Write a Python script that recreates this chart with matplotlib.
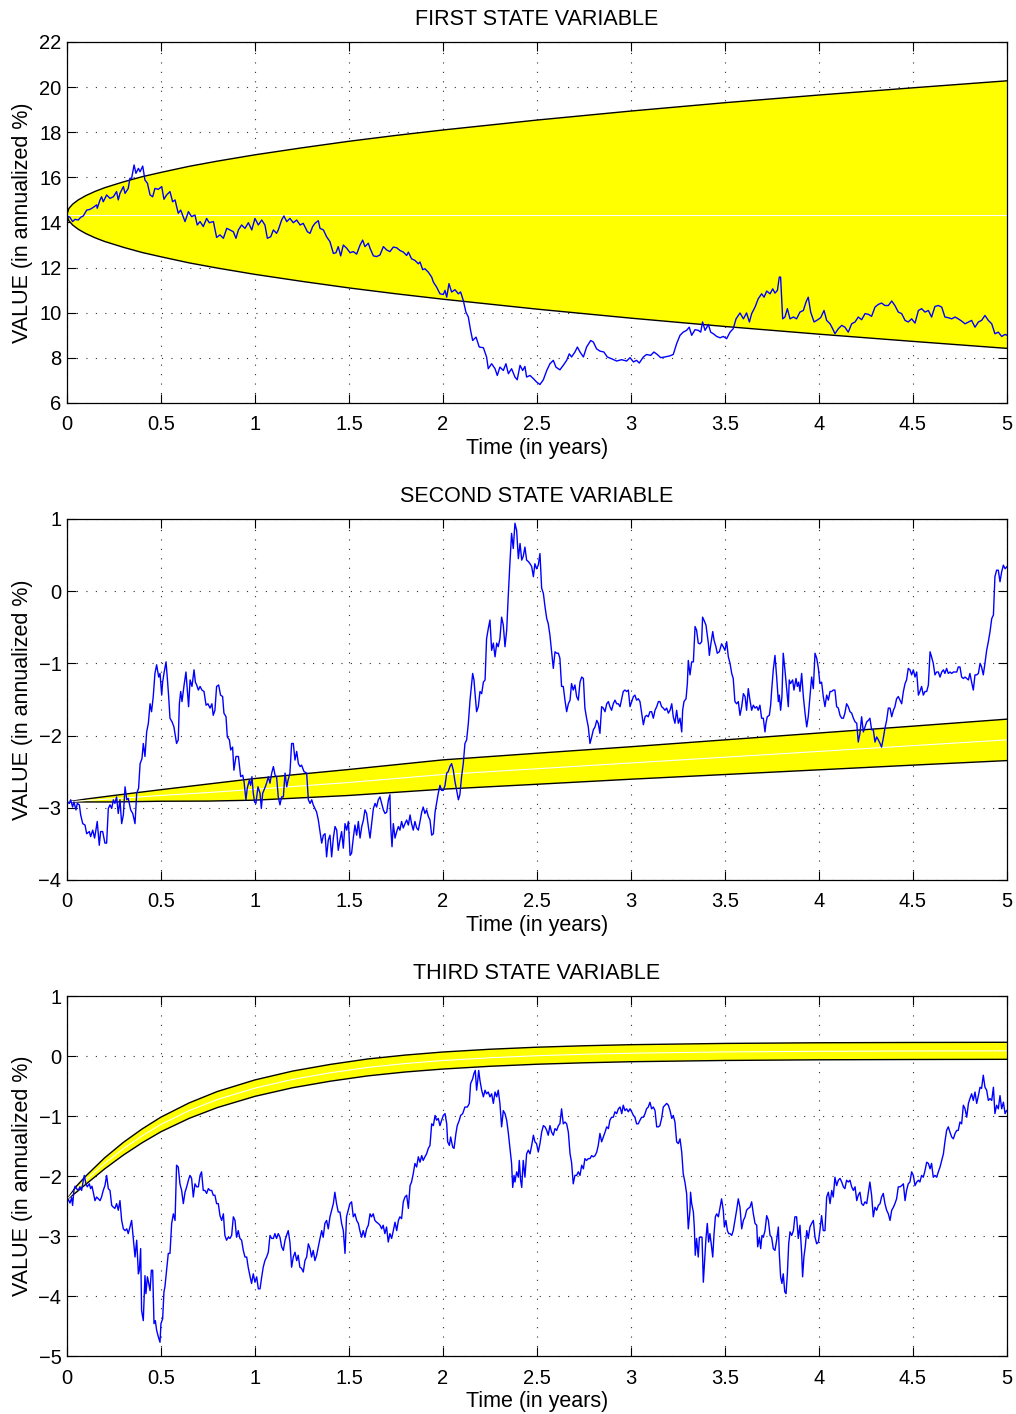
import numpy as np
import matplotlib
matplotlib.use("Agg")
import matplotlib.pyplot as plt

plt.rcParams['font.family'] = ['Liberation Sans', 'DejaVu Sans']

# ---------------------------------------------------------------- axis setup
x_ticks = [0, 0.5, 1, 1.5, 2, 2.5, 3, 3.5, 4, 4.5, 5]
x_tick_labels = ['0', '0.5', '1', '1.5', '2', '2.5', '3', '3.5', '4', '4.5', '5']
titles = ['FIRST STATE VARIABLE', 'SECOND STATE VARIABLE', 'THIRD STATE VARIABLE']
y_limits = [(6, 22), (-4, 1), (-5, 1)]
y_ticks = [[6, 8, 10, 12, 14, 16, 18, 20, 22],
           [-4, -3, -2, -1, 0, 1],
           [-5, -4, -3, -2, -1, 0, 1]]

# ------------------------------------------------ confidence bands (upper/lower)
band1_t = [0, 0.01, 0.03, 0.06, 0.1, 0.15, 0.2, 0.3, 0.4, 0.5, 0.65, 0.8, 1.0,
           1.25, 1.5, 1.75, 2.0, 2.5, 3.0, 3.5, 4.0, 4.5, 5.0]
band1_up = [14.35, 14.62, 14.81, 15.00, 15.19, 15.38, 15.54, 15.80, 16.03, 16.22,
            16.49, 16.72, 17.00, 17.31, 17.60, 17.86, 18.10, 18.54, 18.94, 19.31,
            19.65, 19.97, 20.28]
band1_lo = [14.35, 14.08, 13.89, 13.70, 13.51, 13.32, 13.16, 12.90, 12.67, 12.48,
            12.21, 11.98, 11.70, 11.39, 11.10, 10.84, 10.60, 10.16, 9.76, 9.39,
            9.05, 8.73, 8.42]
band1_mid_t = [0, 5]
band1_mid = [14.35, 14.35]

band2_t = [0, 0.1, 0.25, 0.5, 0.75, 1.0, 1.5, 2.0, 2.5, 3.0, 3.5, 4.0, 4.5, 5.0]
band2_up = [-2.92, -2.88, -2.83, -2.75, -2.672, -2.595, -2.47, -2.337, -2.245,
            -2.155, -2.06, -1.965, -1.87, -1.773]
band2_lo = [-2.92, -2.92, -2.92, -2.91, -2.908, -2.895, -2.83, -2.743, -2.675,
            -2.605, -2.54, -2.475, -2.41, -2.347]
band2_mid = [-2.92, -2.90, -2.875, -2.83, -2.79, -2.745, -2.65, -2.54, -2.46,
             -2.38, -2.30, -2.22, -2.14, -2.06]

band3_t = [0, 0.05, 0.1, 0.2, 0.3, 0.4, 0.5, 0.65, 0.8, 1.0, 1.2, 1.4, 1.6, 1.8,
           2.0, 2.25, 2.5, 2.75, 3.0, 3.5, 4.0, 4.5, 5.0]
band3_up = [-2.39, -2.17, -2.001, -1.698, -1.439, -1.215, -1.018, -0.781, -0.591,
            -0.398, -0.251, -0.14, -0.049, 0.016, 0.067, 0.113, 0.147, 0.171,
            0.189, 0.21, 0.221, 0.226, 0.229]
band3_lo = [-2.39, -2.27, -2.139, -1.882, -1.651, -1.445, -1.262, -1.039, -0.859,
            -0.672, -0.529, -0.42, -0.331, -0.266, -0.217, -0.171, -0.137, -0.113,
            -0.095, -0.074, -0.063, -0.058, -0.055]
band3_mid = [-2.39, -2.22, -2.07, -1.79, -1.545, -1.33, -1.14, -0.91, -0.725,
             -0.535, -0.39, -0.28, -0.19, -0.125, -0.075, -0.029, 0.005, 0.029,
             0.047, 0.068, 0.079, 0.084, 0.087]

# ------------------------------------------------------- simulated path, var 1
path1_t = [
    0.000, 0.016, 0.030, 0.043, 0.060, 0.073, 0.087, 0.105, 0.122, 0.140,
    0.158, 0.161, 0.176, 0.184, 0.193, 0.211, 0.229, 0.247, 0.264, 0.273,
    0.282, 0.300, 0.309, 0.326, 0.335, 0.344, 0.357, 0.367, 0.380, 0.389,
    0.403, 0.415, 0.428, 0.442, 0.456, 0.468, 0.486, 0.504, 0.516, 0.530,
    0.548, 0.562, 0.575, 0.592, 0.605, 0.628, 0.646, 0.663, 0.681, 0.693,
    0.708, 0.725, 0.743, 0.757, 0.779, 0.796, 0.814, 0.832, 0.850, 0.867,
    0.885, 0.899, 0.912, 0.929, 0.947, 0.965, 0.983, 1.000, 1.018, 1.036,
    1.053, 1.066, 1.084, 1.098, 1.115, 1.124, 1.142, 1.154, 1.169, 1.186,
    1.204, 1.222, 1.240, 1.257, 1.279, 1.293, 1.307, 1.319, 1.337, 1.346,
    1.364, 1.381, 1.399, 1.417, 1.431, 1.443, 1.456, 1.470, 1.488, 1.506,
    1.523, 1.541, 1.559, 1.573, 1.585, 1.603, 1.612, 1.630, 1.647, 1.665,
    1.683, 1.701, 1.718,
    1.736, 1.754, 1.771, 1.789, 1.807, 1.816, 1.833, 1.851, 1.869, 1.878,
    1.892, 1.904, 1.922, 1.940, 1.949, 1.966, 1.984, 2.002, 2.011, 2.020,
    2.032, 2.046, 2.064, 2.082, 2.094, 2.108, 2.122, 2.135, 2.147, 2.158,
    2.176, 2.193, 2.215, 2.232, 2.241, 2.259, 2.277, 2.289, 2.303, 2.321,
    2.335, 2.348, 2.365, 2.383, 2.395, 2.410, 2.424, 2.436, 2.445, 2.463,
    2.481, 2.498, 2.516, 2.534, 2.552, 2.569, 2.587, 2.601, 2.622, 2.640,
    2.658, 2.672, 2.684, 2.702, 2.715, 2.729, 2.747, 2.764, 2.786, 2.800,
    2.817, 2.835, 2.856, 2.874, 2.897, 2.924, 2.950, 2.977, 2.995, 3.013,
    3.030, 3.044, 3.066, 3.083, 3.105, 3.122, 3.140, 3.158, 3.181, 3.207,
    3.225, 3.243, 3.261, 3.278, 3.296, 3.310, 3.323, 3.341, 3.358,
    3.371, 3.381, 3.394, 3.412, 3.424, 3.438, 3.456, 3.474, 3.491, 3.509,
    3.527, 3.544, 3.559, 3.580, 3.598, 3.615, 3.630, 3.642, 3.660, 3.677,
    3.695, 3.708, 3.722, 3.740, 3.754, 3.766, 3.779, 3.789, 3.796, 3.807,
    3.819, 3.832, 3.846, 3.864, 3.881, 3.899, 3.917, 3.931, 3.943, 3.956,
    3.974, 3.988, 4.009, 4.027, 4.041, 4.059, 4.073, 4.085, 4.103, 4.121,
    4.138, 4.156, 4.174, 4.192, 4.209, 4.227, 4.245, 4.263, 4.280, 4.298,
    4.316, 4.333, 4.351, 4.369, 4.387, 4.404, 4.422, 4.440, 4.458, 4.475,
    4.493, 4.511, 4.529, 4.546, 4.564, 4.582, 4.599, 4.617, 4.635, 4.653,
    4.670, 4.688, 4.706, 4.724, 4.741, 4.759, 4.777, 4.795, 4.812, 4.830,
    4.848, 4.865, 4.883, 4.901, 4.919, 4.936, 4.954, 4.972, 4.990, 5.000]
path1_v = [
    14.29, 14.23, 14.04, 14.14, 14.11, 14.23, 14.29, 14.55, 14.58, 14.67,
    14.78, 14.63, 15.00, 15.14, 14.92, 15.22, 15.07, 15.14, 15.37, 15.00,
    15.29, 15.59, 15.29, 15.51, 15.96, 15.96, 16.55, 16.18, 16.40, 16.25,
    16.50, 15.88, 15.74, 15.22, 15.14, 15.51, 15.47, 15.59, 15.03, 15.22,
    15.37, 14.92, 15.00, 14.41, 14.55, 14.04, 14.48, 14.26, 14.33, 13.89,
    14.04, 13.82, 14.18, 13.99, 14.04, 13.34, 13.45, 13.30, 13.74, 13.67,
    13.59, 13.30, 13.67, 13.89, 13.74, 13.99, 13.67, 14.18, 13.89, 14.11,
    13.89, 13.30, 13.37, 13.67, 13.52, 13.67, 14.11, 14.29, 14.04, 14.18,
    13.99, 14.11, 13.89, 13.96, 13.59, 13.52, 13.82, 13.96, 14.08, 13.74,
    13.67, 13.37, 13.15, 12.63, 12.66, 12.93, 12.52, 13.00, 12.86, 12.66,
    12.71, 12.60, 13.00, 13.22, 12.93, 13.08, 12.86, 12.52, 12.49, 12.56,
    12.93, 12.78, 12.71,
    12.91, 12.88, 12.76, 12.69, 12.54, 12.69, 12.39, 12.32, 12.17, 12.25,
    11.91, 11.95, 11.80, 11.58, 11.36, 11.14, 10.84, 10.81, 10.99, 10.69,
    11.29, 10.92, 11.02, 10.84, 10.92, 10.55, 10.03, 9.81, 9.22, 8.77,
    8.92, 8.48, 8.45, 8.04, 7.52, 7.74, 7.52, 7.22, 7.59, 7.44,
    7.74, 7.30, 7.52, 7.15, 7.03, 7.67, 7.44, 7.62, 7.15, 7.22,
    7.08, 6.93, 6.82, 7.03, 7.44, 7.74, 7.89, 7.59, 7.47, 7.67,
    7.89, 8.18, 8.04, 8.26, 8.48, 8.26, 8.04, 8.48, 8.77, 8.70,
    8.40, 8.30, 8.26, 8.04, 7.96, 7.86, 7.92, 7.86, 8.01, 7.82,
    7.89, 7.77, 8.04, 8.15, 8.11, 8.26, 8.15, 8.01, 8.04, 8.09,
    8.15, 8.63, 9.00, 9.14, 9.22, 9.36, 9.00, 9.25, 9.22,
    9.14, 9.59, 9.22, 9.48, 9.14, 9.07, 8.95, 8.89, 8.95, 8.85,
    9.14, 9.29, 9.73, 9.99, 9.73, 9.99, 9.59, 9.96, 10.25, 10.62,
    10.84, 10.69, 10.96, 10.84, 11.06, 10.87, 10.99, 11.58, 11.58, 9.73,
    9.81, 10.18, 9.73, 9.81, 9.73, 10.03, 10.10, 10.47, 10.69, 10.03,
    9.59, 9.66, 9.78, 10.10, 9.66, 9.51, 9.29, 9.07, 9.29, 9.44,
    9.36, 9.14, 9.51, 9.59, 9.81, 9.69, 9.96, 9.93, 9.84, 10.25,
    10.37, 10.43, 10.32, 10.32, 10.52, 10.32, 10.03, 9.96, 9.66, 9.59,
    9.73, 9.54, 10.10, 10.18, 10.03, 10.10, 9.81, 10.28, 10.32, 10.25,
    9.81, 9.78, 9.73, 9.81, 9.73, 9.63, 9.51, 9.59, 9.66, 9.36,
    9.59, 9.66, 9.88, 9.66, 9.51, 9.07, 9.14, 8.95, 9.04, 9.00]

# ------------------------------------------------------- simulated path, var 2
path2_t = [
    0.000, 0.013, 0.020, 0.030, 0.037, 0.048, 0.055, 0.066, 0.073, 0.084,
    0.096, 0.105, 0.119, 0.126, 0.137, 0.147, 0.154, 0.161, 0.172, 0.179,
    0.190, 0.202, 0.211, 0.220, 0.229, 0.238, 0.247, 0.255, 0.264, 0.273,
    0.282, 0.291, 0.300, 0.309, 0.318, 0.326, 0.339, 0.350, 0.362, 0.371,
    0.381, 0.389, 0.399, 0.406, 0.415, 0.424, 0.433, 0.442, 0.450, 0.459,
    0.468, 0.477, 0.488, 0.495, 0.504, 0.509, 0.516, 0.527, 0.534, 0.541,
    0.548, 0.559, 0.569, 0.583, 0.592, 0.598, 0.605, 0.612, 0.622, 0.633,
    0.640, 0.647, 0.655, 0.665, 0.676, 0.683, 0.690, 0.699, 0.708, 0.718,
    0.729, 0.740, 0.750, 0.761, 0.771, 0.778, 0.787, 0.796, 0.807, 0.817,
    0.828, 0.835, 0.846, 0.853, 0.864, 0.871, 0.881, 0.888, 0.899, 0.912,
    0.924, 0.935, 0.942, 0.952, 0.959, 0.970, 0.977, 0.984, 0.991, 0.998,
    1.005, 1.016, 1.027, 1.034, 1.041, 1.052, 1.062, 1.071, 1.080, 1.089,
    1.098, 1.107, 1.115, 1.124, 1.133, 1.142, 1.151, 1.160, 1.169, 1.176,
    1.186, 1.195, 1.204, 1.213, 1.222, 1.231, 1.240, 1.248, 1.261, 1.275,
    1.284, 1.293, 1.302, 1.310, 1.319, 1.328, 1.337, 1.346, 1.355, 1.364,
    1.373, 1.381, 1.390, 1.399, 1.408, 1.417, 1.426, 1.435, 1.443, 1.452,
    1.461, 1.470, 1.479, 1.488, 1.497, 1.506, 1.514, 1.523, 1.532, 1.541,
    1.550, 1.559, 1.568, 1.577, 1.585, 1.594, 1.603, 1.612, 1.621, 1.630,
    1.639, 1.647, 1.656, 1.665, 1.674, 1.683, 1.692, 1.701, 1.710, 1.718,
    1.722, 1.729, 1.736, 1.745, 1.754, 1.763, 1.771, 1.780, 1.789, 1.798,
    1.807, 1.816, 1.825, 1.833, 1.842, 1.851, 1.860, 1.869, 1.878, 1.887,
    1.895, 1.904, 1.913, 1.922, 1.931, 1.940, 1.949, 1.958, 1.966, 1.975,
    1.984, 1.993, 2.002, 2.011, 2.020, 2.028, 2.037, 2.046, 2.055, 2.064,
    2.073, 2.082, 2.090, 2.099, 2.108, 2.117, 2.126, 2.135, 2.144, 2.153,
    2.158, 2.165, 2.172, 2.179, 2.188, 2.197, 2.206, 2.215, 2.224, 2.232,
    2.241, 2.250, 2.259, 2.268, 2.277, 2.286, 2.294, 2.303, 2.312, 2.321,
    2.330, 2.339, 2.348, 2.356, 2.365, 2.374, 2.383, 2.392, 2.401, 2.410,
    2.419, 2.427, 2.436, 2.445, 2.454, 2.463, 2.472, 2.481, 2.489, 2.498,
    2.507, 2.516, 2.525, 2.534, 2.543, 2.552, 2.560, 2.569, 2.578, 2.587,
    2.596, 2.605, 2.614, 2.622, 2.631, 2.640, 2.649, 2.658, 2.667, 2.676,
    2.684, 2.693, 2.702, 2.711, 2.720, 2.729, 2.738, 2.747, 2.755, 2.764,
    2.773, 2.782, 2.791, 2.800, 2.809, 2.818, 2.826, 2.835, 2.844, 2.853,
    2.862, 2.871, 2.880, 2.888, 2.897, 2.906, 2.915, 2.924, 2.933, 2.942,
    2.951, 2.959, 2.968, 2.977, 2.986, 2.995, 3.004, 3.013, 3.021, 3.030,
    3.039, 3.048, 3.057, 3.066, 3.075, 3.083, 3.092, 3.101, 3.110, 3.119,
    3.128, 3.137, 3.146, 3.154, 3.163, 3.172, 3.181, 3.190, 3.199, 3.208,
    3.217, 3.225, 3.234, 3.243, 3.252, 3.261, 3.270, 3.275, 3.282, 3.293,
    3.300, 3.305, 3.314, 3.323, 3.332, 3.341, 3.349, 3.358,
    3.367, 3.376, 3.381, 3.388, 3.399, 3.412, 3.417, 3.424, 3.435, 3.442,
    3.452, 3.459, 3.470, 3.482, 3.491, 3.500, 3.509, 3.518, 3.527, 3.536,
    3.544, 3.553, 3.562, 3.571, 3.580, 3.589, 3.598, 3.607, 3.615, 3.624,
    3.633, 3.642, 3.651, 3.660, 3.669, 3.677, 3.686, 3.695, 3.704, 3.713,
    3.718, 3.725, 3.736, 3.743, 3.748, 3.757, 3.766, 3.775, 3.784, 3.789,
    3.796, 3.803, 3.810, 3.819, 3.828, 3.837, 3.842, 3.849, 3.860, 3.867,
    3.878, 3.885, 3.892, 3.899, 3.908, 3.917, 3.926, 3.935, 3.943, 3.952,
    3.961, 3.970, 3.979, 3.988, 3.997, 4.005, 4.014, 4.023, 4.032, 4.041,
    4.050, 4.059, 4.068, 4.076, 4.085, 4.094, 4.103, 4.112, 4.121, 4.130,
    4.138, 4.147, 4.156, 4.165, 4.174, 4.183, 4.192, 4.201, 4.209, 4.218,
    4.227, 4.236, 4.245, 4.254, 4.263, 4.271, 4.280, 4.289, 4.298, 4.307,
    4.316, 4.325, 4.333, 4.342, 4.351, 4.360, 4.369, 4.378, 4.387, 4.396,
    4.404, 4.413, 4.422, 4.431, 4.440, 4.449, 4.458, 4.466, 4.475, 4.484,
    4.493, 4.502, 4.511, 4.520, 4.529, 4.537, 4.546, 4.555, 4.564, 4.573,
    4.582, 4.591, 4.599, 4.608, 4.617, 4.626, 4.635, 4.644, 4.653, 4.662,
    4.670, 4.679, 4.688, 4.697, 4.706, 4.715, 4.724, 4.733, 4.741, 4.750,
    4.759, 4.768, 4.777, 4.786, 4.795, 4.803, 4.812, 4.821, 4.830, 4.839,
    4.848, 4.857, 4.865, 4.874, 4.883, 4.892, 4.901, 4.910, 4.919, 4.928,
    4.936, 4.945, 4.954, 4.963, 4.972, 4.981, 4.990, 5.000]
path2_v = [
    -2.92, -2.94, -2.89, -2.99, -2.92, -3.03, -2.94, -2.96, -3.10, -3.22,
    -3.24, -3.36, -3.33, -3.40, -3.31, -3.42, -3.31, -3.19, -3.52, -3.33,
    -3.33, -3.49, -3.49, -3.01, -2.96, -3.01, -2.89, -2.94, -2.85, -3.08,
    -2.89, -3.22, -3.10, -2.71, -2.89, -2.87, -3.03, -3.08, -3.22, -2.80,
    -2.73, -2.39, -2.32, -2.11, -2.29, -1.95, -1.83, -1.56, -1.67, -1.46,
    -1.14, -1.02, -1.19, -1.14, -1.44, -1.26, -1.14, -0.98, -1.21, -1.46,
    -1.76, -1.81, -1.88, -2.11, -2.06, -1.56, -1.39, -1.53, -1.32, -1.12,
    -1.37, -1.60, -1.23, -1.32, -1.09, -1.26, -1.30, -1.37, -1.32, -1.37,
    -1.39, -1.58, -1.56, -1.62, -1.56, -1.72, -1.65, -1.32, -1.30, -1.44,
    -1.46, -1.69, -1.74, -2.02, -2.06, -2.20, -2.16, -2.48, -2.29, -2.29,
    -2.57, -2.55, -2.64, -2.89, -2.73, -2.62, -2.69, -2.57, -2.80, -2.92,
    -2.94, -2.71, -2.80, -3.01, -2.80, -2.73, -2.66, -2.57, -2.66, -2.52,
    -2.43, -2.55, -2.57, -2.85, -2.96, -2.85, -2.85, -2.52, -2.71, -2.62,
    -2.52, -2.11, -2.11, -2.34, -2.22, -2.39, -2.43, -2.41, -2.50, -2.52,
    -2.89, -2.94, -2.89, -2.96, -3.01, -3.06, -3.17, -3.33, -3.49, -3.38,
    -3.36, -3.68, -3.45, -3.38, -3.68, -3.42, -3.26, -3.31, -3.59, -3.45,
    -3.33, -3.56, -3.22, -3.31, -3.19, -3.66, -3.63, -3.42, -3.24, -3.38,
    -3.19, -3.42, -3.26, -3.17, -3.03, -3.08, -3.26, -3.42, -3.22, -3.01,
    -2.94, -2.99, -2.89, -2.85, -2.94, -3.03, -3.08, -3.06, -2.89, -2.82,
    -3.26, -3.54, -3.22, -3.42, -3.33, -3.26, -3.31, -3.19, -3.28, -3.22,
    -3.17, -3.24, -3.10, -3.22, -3.31, -3.19, -3.28, -3.31, -3.19, -3.06,
    -2.99, -3.08, -3.03, -3.12, -3.17, -3.38, -3.36, -3.06, -2.94, -2.80,
    -2.69, -2.76, -2.76, -2.69, -2.52, -2.50, -2.43, -2.39, -2.48, -2.64,
    -2.76, -2.89, -2.82, -2.57, -2.39, -2.11, -2.06, -1.83, -1.51, -1.28,
    -1.14, -1.23, -1.46, -1.67, -1.60, -1.39, -1.42, -1.26, -1.23, -0.66,
    -0.52, -0.40, -0.82, -0.72, -0.91, -0.72, -0.77, -0.66, -0.36, -0.47,
    -0.77, -0.54, -0.03, 0.38, 0.80, 0.59, 0.94, 0.84, 0.45, 0.66,
    0.43, 0.48, 0.61, 0.43, 0.41, 0.38, 0.34, 0.20, 0.38, 0.31,
    0.36, 0.52, 0.04, -0.03, -0.22, -0.38, -0.45, -0.61, -0.84, -1.07,
    -0.84, -0.86, -0.86, -0.93, -1.32, -1.32, -1.51, -1.67, -1.56, -1.51,
    -1.28, -1.37, -1.30, -1.46, -1.51, -1.26, -1.19, -1.21, -1.62, -1.76,
    -1.88, -2.11, -2.02, -1.92, -1.88, -1.79, -1.83, -1.97, -1.60, -1.62,
    -1.67, -1.56, -1.53, -1.60, -1.65, -1.56, -1.51, -1.56, -1.56, -1.60,
    -1.49, -1.39, -1.37, -1.39, -1.37, -1.60, -1.53, -1.46, -1.44, -1.51,
    -1.49, -1.53, -1.69, -1.85, -1.74, -1.72, -1.74, -1.67, -1.67, -1.76,
    -1.65, -1.60, -1.53, -1.53, -1.60, -1.62, -1.65, -1.62, -1.69, -1.65,
    -1.56, -1.74, -1.83, -1.65, -1.83, -1.76, -1.95, -1.65, -1.53, -1.49,
    -1.28, -0.96, -1.16, -0.98, -0.98, -0.49, -0.54, -0.72,
    -0.73, -0.70, -0.36, -0.40, -0.47, -0.73, -0.89, -0.75, -0.56, -0.68,
    -0.77, -0.86, -0.84, -0.73, -0.77, -0.82, -0.70, -0.91, -1.00, -1.14,
    -1.21, -1.53, -1.56, -1.53, -1.72, -1.60, -1.42, -1.46, -1.65, -1.35,
    -1.51, -1.65, -1.58, -1.62, -1.60, -1.65, -1.58, -1.76, -1.76, -1.95,
    -1.83, -1.74, -1.72, -1.58, -1.39, -1.09, -0.89, -1.19, -1.53, -1.44,
    -1.65, -1.46, -0.86, -1.09, -1.35, -1.60, -1.23, -1.28, -1.23, -1.37,
    -1.21, -1.32, -1.26, -1.39, -1.14, -1.46, -1.69, -1.88, -1.74, -1.46,
    -1.19, -1.35, -0.86, -0.93, -1.07, -1.28, -1.26, -1.46, -1.60, -1.44,
    -1.51, -1.39, -1.39, -1.37, -1.37, -1.60, -1.62, -1.72, -1.76, -1.76,
    -1.69, -1.56, -1.60, -1.67, -1.69, -1.76, -1.81, -1.83, -2.09, -1.97,
    -1.74, -1.95, -1.88, -1.81, -1.79, -1.76, -1.92, -1.92, -2.09, -2.02,
    -2.06, -2.11, -2.16, -2.04, -1.90, -1.79, -1.62, -1.62, -1.74, -1.65,
    -1.60, -1.49, -1.46, -1.51, -1.56, -1.39, -1.28, -1.23, -1.07, -1.09,
    -1.16, -1.09, -1.19, -1.12, -1.44, -1.39, -1.32, -1.44, -1.39, -1.39,
    -1.30, -0.84, -0.91, -1.00, -1.16, -1.12, -1.12, -1.19, -1.12, -1.09,
    -1.14, -1.07, -1.14, -1.12, -1.14, -1.12, -1.12, -1.12, -1.05, -1.05,
    -1.19, -1.21, -1.19, -1.21, -1.23, -1.14, -1.26, -1.37, -1.16, -1.16,
    -1.14, -1.00, -1.05, -1.16, -1.00, -0.82, -0.70, -0.56, -0.38, -0.33,
    0.20, 0.29, 0.29, 0.13, 0.27, 0.36, 0.31, 0.34]

# ------------------------------------------------------- simulated path, var 3
path3_t = [
    0.000, 0.007, 0.016, 0.025, 0.030, 0.037, 0.043, 0.051, 0.060, 0.069,
    0.078, 0.087, 0.092, 0.101, 0.108, 0.119, 0.126, 0.133, 0.140, 0.149,
    0.158, 0.167, 0.176, 0.184, 0.193, 0.202, 0.211, 0.220, 0.229, 0.238,
    0.247, 0.255, 0.264, 0.273, 0.282, 0.291, 0.300, 0.309, 0.318, 0.326,
    0.335, 0.344, 0.353, 0.362, 0.371, 0.380, 0.385, 0.392, 0.397, 0.406,
    0.415, 0.420, 0.428, 0.435, 0.442, 0.449, 0.456, 0.463, 0.470, 0.477,
    0.486, 0.495, 0.500, 0.509, 0.516, 0.521, 0.530, 0.539, 0.548, 0.557,
    0.566, 0.575, 0.583, 0.592, 0.601, 0.610, 0.619, 0.628, 0.637, 0.646,
    0.654, 0.663, 0.672, 0.681, 0.690, 0.699, 0.708, 0.716, 0.725, 0.734,
    0.743, 0.752, 0.761, 0.770, 0.778, 0.787, 0.796, 0.805, 0.814, 0.823,
    0.832, 0.840, 0.849, 0.858, 0.867, 0.876, 0.885, 0.894, 0.902, 0.911,
    0.920, 0.929, 0.938, 0.947, 0.956, 0.964, 0.973, 0.982, 0.991, 1.000,
    1.009, 1.018, 1.027, 1.036, 1.044, 1.053, 1.062, 1.071, 1.080, 1.089,
    1.098, 1.106, 1.115, 1.124, 1.133, 1.142, 1.151, 1.160, 1.168, 1.177,
    1.186, 1.195, 1.204, 1.213, 1.222, 1.230, 1.239, 1.248, 1.257, 1.266,
    1.275, 1.284, 1.293, 1.301, 1.310, 1.319, 1.328, 1.337, 1.346, 1.355,
    1.363, 1.372, 1.381, 1.390, 1.399, 1.408, 1.417, 1.425, 1.434, 1.443,
    1.452, 1.461, 1.470, 1.479, 1.487, 1.496, 1.505, 1.514, 1.523, 1.532,
    1.541, 1.550, 1.558, 1.567, 1.576, 1.585, 1.594, 1.603, 1.612, 1.620,
    1.629, 1.638, 1.647, 1.656, 1.665, 1.674, 1.682, 1.691, 1.700, 1.709,
    1.718,
    1.727, 1.736, 1.745, 1.754, 1.763, 1.771, 1.780, 1.789, 1.798, 1.807,
    1.816, 1.825, 1.833, 1.842, 1.851, 1.860, 1.869, 1.878, 1.887, 1.895,
    1.904, 1.913, 1.922, 1.931, 1.940, 1.949, 1.958, 1.966, 1.975, 1.984,
    1.993, 2.002, 2.011, 2.020, 2.025, 2.034, 2.041, 2.052, 2.059, 2.069,
    2.076, 2.087, 2.094, 2.105, 2.117, 2.130, 2.140, 2.147, 2.158, 2.165,
    2.172, 2.179, 2.185, 2.190, 2.197, 2.206, 2.215, 2.224, 2.232, 2.241,
    2.250, 2.259, 2.268, 2.277, 2.286, 2.294, 2.303, 2.312, 2.321, 2.330,
    2.339, 2.348, 2.356, 2.365, 2.371, 2.378, 2.383, 2.392, 2.401, 2.406,
    2.413, 2.419, 2.427, 2.436, 2.445, 2.454, 2.463, 2.472, 2.481, 2.489,
    2.498, 2.507, 2.516, 2.525, 2.534, 2.543, 2.552, 2.560, 2.569, 2.578,
    2.587, 2.596, 2.605, 2.614, 2.622, 2.631, 2.640, 2.649, 2.658, 2.667,
    2.676, 2.684, 2.693, 2.702, 2.711, 2.720, 2.729, 2.738, 2.747, 2.755,
    2.764, 2.773, 2.782, 2.791, 2.800, 2.809, 2.818, 2.826, 2.835, 2.844,
    2.853, 2.862, 2.871, 2.880, 2.888, 2.897, 2.906, 2.915, 2.924, 2.933,
    2.942, 2.951, 2.959, 2.968, 2.977, 2.986, 2.995, 3.004, 3.013, 3.021,
    3.030, 3.039, 3.048, 3.057, 3.066, 3.075, 3.083, 3.092, 3.101, 3.110,
    3.119, 3.128, 3.137, 3.146, 3.154, 3.163, 3.172, 3.181, 3.190, 3.199,
    3.208, 3.217, 3.225, 3.234, 3.243, 3.252, 3.261, 3.270, 3.278, 3.287,
    3.296, 3.305, 3.314, 3.317, 3.323, 3.332, 3.337, 3.342, 3.349, 3.358,
    3.364, 3.371, 3.378, 3.385, 3.394, 3.399, 3.406, 3.413, 3.420, 3.427,
    3.435, 3.442, 3.449, 3.456, 3.465, 3.474, 3.482, 3.491, 3.497, 3.505,
    3.513, 3.520, 3.527, 3.536, 3.544, 3.553, 3.562, 3.571, 3.580, 3.589,
    3.598, 3.607, 3.615, 3.624, 3.633, 3.642, 3.651, 3.660, 3.669, 3.674,
    3.683, 3.690, 3.697, 3.704, 3.713, 3.722, 3.731, 3.740, 3.748, 3.757,
    3.766, 3.775, 3.784, 3.789, 3.796, 3.803, 3.810, 3.818, 3.825, 3.832,
    3.839, 3.846, 3.855, 3.864, 3.872, 3.881, 3.890, 3.899, 3.908, 3.913,
    3.920, 3.927, 3.935, 3.943, 3.952, 3.961, 3.970, 3.979, 3.988, 3.997,
    4.005, 4.014, 4.023, 4.032, 4.041, 4.050, 4.059, 4.068, 4.076, 4.085,
    4.094, 4.103, 4.112, 4.121, 4.130, 4.138, 4.147, 4.156, 4.165, 4.174,
    4.183, 4.192, 4.201, 4.209, 4.218, 4.227, 4.236, 4.245, 4.254, 4.263,
    4.271, 4.280, 4.289, 4.298, 4.307, 4.316, 4.325, 4.333, 4.342, 4.351,
    4.360, 4.369, 4.378, 4.387, 4.396, 4.404, 4.413, 4.422, 4.431, 4.440,
    4.449, 4.458, 4.466, 4.475, 4.484, 4.493, 4.502, 4.511, 4.520, 4.529,
    4.537, 4.546, 4.555, 4.564, 4.573, 4.582, 4.591, 4.599, 4.608, 4.617,
    4.626, 4.635, 4.644, 4.653, 4.662, 4.670, 4.679, 4.688, 4.697, 4.706,
    4.715, 4.724, 4.733, 4.741, 4.750, 4.759, 4.768, 4.777, 4.786, 4.795,
    4.803, 4.812, 4.821, 4.830, 4.839, 4.848, 4.857, 4.865, 4.874, 4.883,
    4.892, 4.901, 4.910, 4.919, 4.928, 4.936, 4.945, 4.954, 4.963, 4.972,
    4.981, 4.990, 4.998]
path3_v = [
    -2.42, -2.39, -2.45, -2.36, -2.49, -2.24, -2.17, -2.21, -2.24, -2.18,
    -2.24, -2.07, -1.99, -2.13, -2.18, -2.13, -2.21, -2.17, -2.27, -2.41,
    -2.35, -2.38, -2.41, -2.35, -2.24, -2.16, -1.99, -2.21, -2.24, -2.49,
    -2.52, -2.54, -2.46, -2.57, -2.41, -2.74, -2.88, -2.91, -2.88, -2.96,
    -2.85, -2.74, -3.04, -3.35, -3.07, -3.63, -3.57, -3.21, -4.24, -4.41,
    -3.66, -3.96, -3.68, -3.79, -3.91, -3.57, -3.57, -4.46, -4.41, -4.57,
    -4.68, -4.77, -4.46, -4.38, -3.93, -3.85, -3.57, -3.29, -3.29, -2.79,
    -2.63, -2.74, -1.82, -1.85, -2.13, -2.24, -2.46, -2.27, -2.18, -2.07,
    -1.99, -2.04, -2.35, -2.13, -2.18, -2.18, -1.99, -1.93, -2.24, -2.24,
    -2.29, -2.21, -2.24, -2.24, -2.32, -2.32, -2.46, -2.46, -2.66, -2.74,
    -2.63, -2.99, -3.07, -3.02, -3.04, -2.99, -2.68, -2.74, -3.02, -2.91,
    -3.04, -3.07, -3.24, -3.35, -3.35, -3.52, -3.66, -3.79, -3.63, -3.77,
    -3.68, -3.88, -3.88, -3.68, -3.52, -3.41, -3.35, -3.27, -2.99, -3.04,
    -3.04, -2.96, -3.04, -2.96, -3.02, -3.18, -3.24, -3.07, -2.99, -2.91,
    -3.10, -3.52, -3.35, -3.27, -3.41, -3.32, -3.52, -3.54, -3.60, -3.41,
    -3.35, -3.13, -3.21, -3.35, -3.24, -3.41, -3.32, -3.18, -3.04, -2.91,
    -3.02, -2.79, -2.74, -2.88, -2.68, -2.57, -2.46, -2.27, -2.46, -2.60,
    -2.60, -2.79, -2.91, -3.29, -2.68, -2.57, -2.46, -2.43, -2.68, -2.63,
    -2.74, -2.79, -2.91, -3.02, -2.91, -3.02, -2.88, -2.82, -2.63, -2.68,
    -2.63, -2.74, -2.77, -2.79, -2.82, -2.88, -2.82, -2.96, -2.85, -3.10,
    -2.96,
    -3.04, -2.91, -2.77, -2.91, -2.74, -2.68, -2.71, -2.43, -2.35, -2.32,
    -2.54, -2.16, -2.10, -1.96, -1.79, -1.85, -1.68, -1.77, -1.66, -1.74,
    -1.68, -1.63, -1.54, -1.49, -1.13, -1.16, -0.99, -1.07, -1.04, -1.16,
    -1.07, -0.99, -0.96, -1.13, -1.43, -1.49, -1.35, -1.52, -1.54, -1.29,
    -1.16, -1.07, -0.99, -0.96, -0.85, -0.85, -0.79, -0.46, -0.38, -0.29,
    -0.24, -0.57, -0.41, -0.24, -0.41, -0.57, -0.68, -0.57, -0.63, -0.60,
    -0.68, -0.63, -0.79, -0.60, -0.68, -0.57, -0.79, -1.18, -0.91, -0.96,
    -1.07, -1.29, -1.52, -1.79, -2.19, -1.99, -2.10, -1.93, -2.02, -1.74,
    -2.07, -2.19, -1.74, -2.02, -1.63, -1.57, -1.63, -1.49, -1.32, -1.43,
    -1.46, -1.60, -1.46, -1.27, -1.16, -1.18, -1.24, -1.32, -1.16, -1.27,
    -1.32, -1.21, -1.24, -1.16, -1.13, -0.88, -1.13, -1.10, -1.13, -1.27,
    -1.63, -1.77, -2.13, -1.99, -1.99, -1.93, -1.99, -1.82, -1.88, -1.71,
    -1.74, -1.71, -1.71, -1.66, -1.68, -1.66, -1.60, -1.49, -1.29, -1.43,
    -1.35, -1.27, -1.18, -1.21, -1.07, -1.02, -1.02, -0.93, -0.96, -0.88,
    -0.85, -0.96, -0.82, -0.91, -0.88, -0.93, -0.88, -0.93, -0.99, -1.02,
    -1.13, -1.13, -1.07, -1.02, -1.02, -0.96, -0.88, -0.85, -0.77, -0.88,
    -0.85, -0.91, -1.18, -1.18, -1.16, -1.04, -0.85, -0.82, -0.79, -0.82,
    -0.91, -1.04, -0.99, -1.10, -1.43, -1.46, -1.38, -1.60, -1.96, -2.10,
    -2.29, -2.88, -2.57, -2.27, -2.46, -2.60, -2.85, -3.32, -3.04, -3.35,
    -3.02, -3.02, -3.02, -3.77, -3.29, -3.04, -2.79, -3.10, -2.96, -3.13,
    -3.35, -2.96, -2.68, -2.63, -2.68, -2.52, -2.38, -2.57, -2.85, -2.74,
    -2.91, -2.96, -2.96, -2.99, -2.91, -2.74, -2.57, -2.38, -2.52, -2.88,
    -2.74, -2.68, -2.57, -2.54, -2.52, -2.43, -2.63, -2.79, -2.82, -3.18,
    -3.02, -3.21, -2.99, -3.02, -2.91, -2.66, -2.74, -2.99, -3.02, -3.21,
    -3.24, -3.07, -2.85, -3.29, -3.68, -3.79, -3.63, -3.93, -3.96, -3.63,
    -3.13, -2.93, -2.99, -2.91, -2.68, -2.68, -3.04, -2.82, -3.29, -3.68,
    -3.35, -3.18, -2.91, -3.04, -2.85, -2.79, -2.74, -3.02, -3.13, -3.10,
    -2.91, -2.66, -2.91, -2.91, -2.35, -2.27, -2.46, -2.24, -2.35, -2.02,
    -2.16, -2.07, -2.04, -2.10, -2.18, -2.21, -2.07, -2.10, -2.07, -2.18,
    -2.24, -2.18, -2.41, -2.32, -2.27, -2.46, -2.49, -2.43, -2.46, -2.27,
    -2.10, -2.32, -2.68, -2.52, -2.57, -2.49, -2.46, -2.35, -2.29, -2.46,
    -2.57, -2.63, -2.74, -2.57, -2.52, -2.46, -2.38, -2.18, -2.18, -2.16,
    -2.13, -2.41, -2.24, -2.13, -2.10, -1.93, -1.99, -2.16, -2.10, -2.07,
    -2.10, -1.99, -2.02, -1.91, -1.77, -1.79, -1.88, -1.79, -2.02, -1.99,
    -2.02, -1.93, -1.85, -1.74, -1.63, -1.43, -1.24, -1.18, -1.27, -1.35,
    -1.38, -1.29, -1.24, -1.24, -1.10, -1.13, -0.82, -0.88, -1.02, -0.79,
    -0.71, -0.63, -0.74, -0.60, -0.79, -0.66, -0.52, -0.54, -0.32, -0.52,
    -0.57, -0.74, -0.71, -0.74, -0.52, -0.96, -0.82, -0.88, -0.66, -0.88,
    -0.77, -0.96, -0.91]

panels = [
    (band1_t, band1_up, band1_lo, band1_mid_t, band1_mid, path1_t, path1_v),
    (band2_t, band2_up, band2_lo, band2_t, band2_mid, path2_t, path2_v),
    (band3_t, band3_up, band3_lo, band3_t, band3_mid, path3_t, path3_v),
]

# axes rectangles in figure fractions (left, bottom, width, height)
rects = [(0.0659, 0.7150, 0.9252, 0.2553),
         (0.0659, 0.3777, 0.9252, 0.2553),
         (0.0659, 0.0410, 0.9252, 0.2546)]

fig = plt.figure(figsize=(10.16, 14.14), dpi=100)

for k, (rect, data) in enumerate(zip(rects, panels)):
    bt, bup, blo, mt, mid, pt, pv = data
    ax = fig.add_axes(rect)

    ax.fill_between(bt, blo, bup, facecolor='#ffff00', edgecolor='none', zorder=2)
    ax.plot(bt, bup, color='k', lw=1.0, zorder=2.2)
    ax.plot(bt, blo, color='k', lw=1.0, zorder=2.2)
    ax.plot(mt, mid, color='white', lw=0.8, zorder=2.3)
    ax.plot(pt, pv, color='#0000ff', lw=1.0, zorder=3)

    ax.set_xlim(0, 5)
    ax.set_ylim(*y_limits[k])
    ax.set_xticks(x_ticks)
    ax.set_xticklabels(x_tick_labels)
    ax.set_yticks(y_ticks[k])

    ax.set_axisbelow(True)
    ax.grid(True, color='#303030', linestyle=(0, (1, 7.5)), linewidth=0.8)
    ax.tick_params(direction='in', top=True, right=True, length=6.5,
                   width=0.8, labelsize=14.5, colors='k')
    ax.tick_params(axis='x', pad=9)
    ax.tick_params(axis='y', pad=4)
    for s in ax.spines.values():
        s.set_linewidth(0.9)
        s.set_zorder(4)

    ax.set_title(titles[k], fontsize=15.5, pad=12)
    ax.set_xlabel('Time (in years)', fontsize=15.5)
    ax.set_ylabel('VALUE (in annualized %)', fontsize=15.5)
    ax.xaxis.set_label_coords(0.5, -0.098)
    ax.yaxis.set_label_coords(-0.036, 0.5)

fig.savefig('out.png', dpi=100)
